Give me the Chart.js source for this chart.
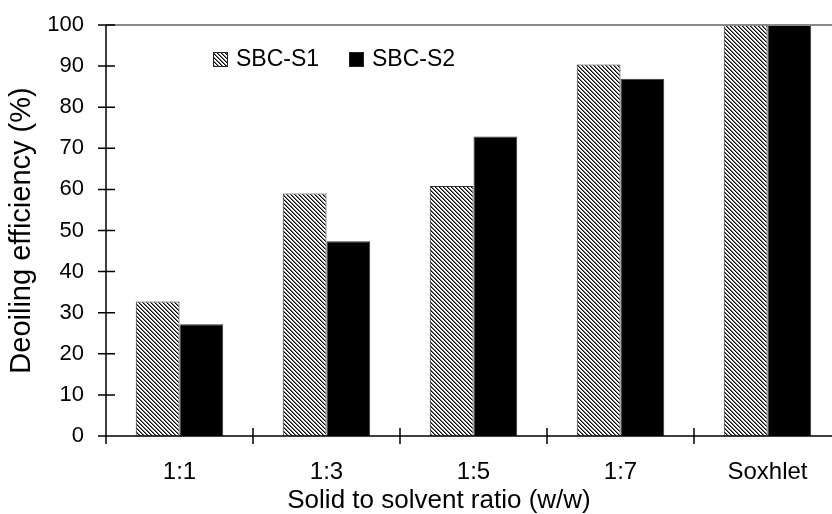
<!DOCTYPE html>
<html>
<head>
    <title>Deoiling efficiency</title>
    <script src="https://cdn.jsdelivr.net/npm/chart.js"></script>
    <style>
        html, body { margin: 0; padding: 0; overflow: hidden; background: #fff; }
        #wrap { width: 842px; height: 514px; }
    </style>
</head>
<body>
    <div id="wrap"><canvas id="effChart" width="842" height="514"></canvas></div>

    <script>
        // Dados
        const categories = ['1:1', '1:3', '1:5', '1:7', 'Soxhlet'];
        const seriesNames = ['SBC-S1', 'SBC-S2'];
        const s1Values = [32.7, 59.0, 60.8, 90.4, 100];
        const s2Values = [27.2, 47.4, 72.9, 86.9, 100];
        const yTicks = [0, 10, 20, 30, 40, 50, 60, 70, 80, 90, 100];
        const xTitle = 'Solid to solvent ratio (w/w)';

        const FONT = '"Liberation Sans", Arial, sans-serif';

        // Padrão hachurado (\\\\) para a série S1
        function makeHatch() {
            const c = document.createElement('canvas');
            c.width = 4; c.height = 4;
            const g = c.getContext('2d');
            g.fillStyle = '#fff';
            g.fillRect(0, 0, 4, 4);
            for (let i = 0; i < 4; i++) {
                g.fillStyle = '#000';
                g.fillRect(i, i, 1, 1);
                g.fillStyle = '#777';
                g.fillRect((i + 1) % 4, i, 1, 1);
            }
            return g.createPattern(c, 'repeat');
        }
        const hatch = makeHatch();

        // Eixos com marcas cruzando a linha, borda superior, título do eixo x e legenda
        const axisDecor = {
            id: 'axisDecor',
            afterDraw(chart) {
                const { ctx, chartArea: a, scales: { x, y } } = chart;
                ctx.save();
                ctx.strokeStyle = '#8a8a8a';
                ctx.lineWidth = 2;
                ctx.beginPath();
                ctx.moveTo(a.left, a.top);
                ctx.lineTo(a.right + 5, a.top);
                ctx.stroke();

                ctx.strokeStyle = '#000';
                ctx.lineWidth = 1.5;
                ctx.beginPath();
                ctx.moveTo(a.left, a.top);
                ctx.lineTo(a.left, a.bottom + 8);
                ctx.moveTo(a.left - 8, a.bottom);
                ctx.lineTo(a.right + 5, a.bottom);
                yTicks.forEach(v => {
                    const py = y.getPixelForValue(v);
                    ctx.moveTo(a.left - 8, py);
                    ctx.lineTo(a.left + 9, py);
                });
                for (let i = 1; i <= categories.length; i++) {
                    const px = x.getPixelForValue(i - 0.5);
                    ctx.moveTo(px, a.bottom - 8);
                    ctx.lineTo(px, a.bottom + 8);
                }
                ctx.stroke();

                // título do eixo x (deslocado para a esquerda como no original)
                ctx.fillStyle = '#000';
                ctx.font = '26px ' + FONT;
                ctx.textAlign = 'center';
                ctx.textBaseline = 'middle';
                ctx.fillText(xTitle, 439, a.bottom + 65);

                // legenda
                const spots = [[213, 52], [349, 52]];
                ctx.font = '23px ' + FONT;
                ctx.textAlign = 'left';
                chart.data.datasets.forEach((ds, i) => {
                    const [lx, ly] = spots[i];
                    ctx.fillStyle = ds.backgroundColor;
                    ctx.fillRect(lx, ly, 15, 15);
                    ctx.strokeStyle = '#222';
                    ctx.lineWidth = 1;
                    ctx.strokeRect(lx + 0.5, ly + 0.5, 14, 14);
                    ctx.fillStyle = '#000';
                    ctx.fillText(ds.label, lx + 23, ly + 8);
                });
                ctx.restore();
            }
        };

        const ctx = document.getElementById('effChart').getContext('2d');
        const effChart = new Chart(ctx, {
            type: 'bar',
            data: {
                labels: categories,
                datasets: [{
                    label: seriesNames[0],
                    data: s1Values,
                    backgroundColor: hatch,
                    borderColor: '#333',
                    borderWidth: 1
                }, {
                    label: seriesNames[1],
                    data: s2Values,
                    backgroundColor: '#000',
                    borderColor: '#333',
                    borderWidth: 1
                }]
            },
            plugins: [axisDecor],
            options: {
                responsive: false,
                animation: false,
                devicePixelRatio: 1,
                layout: { padding: { top: 25, right: 1, left: 0, bottom: 0 } },
                plugins: {
                    legend: { display: false },
                    tooltip: { enabled: false }
                },
                datasets: {
                    bar: { barPercentage: 1, categoryPercentage: 0.595 }
                },
                scales: {
                    x: {
                        grid: { display: false },
                        border: { display: false },
                        ticks: { color: '#000', font: { family: FONT, size: 24 }, padding: 14 },
                        afterFit: s => { s.height = 78; }
                    },
                    y: {
                        min: 0,
                        max: 100,
                        grid: { display: false },
                        border: { display: false },
                        ticks: {
                            stepSize: 10,
                            color: '#000',
                            font: { family: FONT, size: 22 },
                            padding: 14
                        },
                        title: {
                            display: true,
                            text: 'Deoiling efficiency (%)',
                            color: '#000',
                            font: { family: FONT, size: 29 },
                            padding: { top: 5, bottom: 0 }
                        },
                        afterFit: s => { s.width = 106; s.paddingTop = 0; s.paddingBottom = 0; }
                    }
                }
            }
        });
    </script>
</body>
</html>
